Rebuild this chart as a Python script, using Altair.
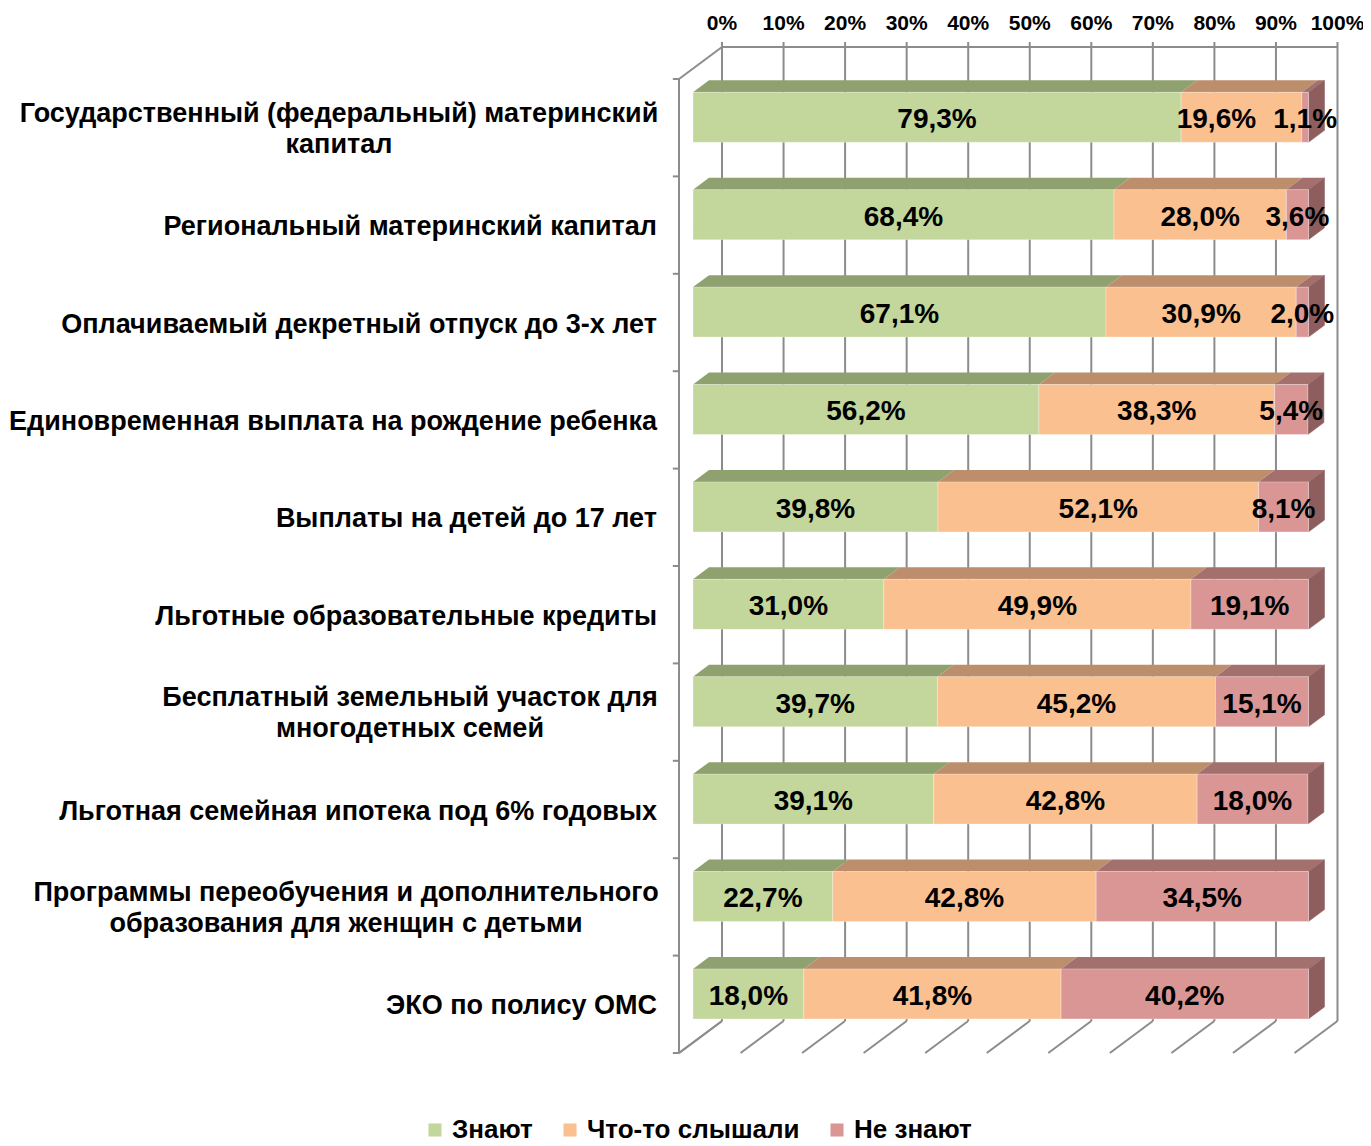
import altair as alt
import pandas as pd

# ---------------- data ----------------
categories = [
    "Государственный (федеральный) материнский\nкапитал",
    "Региональный материнский капитал",
    "Оплачиваемый декретный отпуск до 3-х лет",
    "Единовременная выплата на рождение ребенка",
    "Выплаты на детей до 17 лет",
    "Льготные образовательные кредиты",
    "Бесплатный земельный участок для\nмногодетных семей",
    "Льготная семейная ипотека под 6% годовых",
    "Программы переобучения и дополнительного\nобразования для женщин с детьми",
    "ЭКО по полису ОМС",
]
series = ["Знают", "Что-то слышали", "Не знают"]
know = [79.3, 68.4, 67.1, 56.2, 39.8, 31.0, 39.7, 39.1, 22.7, 18.0]
heard = [19.6, 28.0, 30.9, 38.3, 52.1, 49.9, 45.2, 42.8, 42.8, 41.8]
dont = [1.1, 3.6, 2.0, 5.4, 8.1, 19.1, 15.1, 18.0, 34.5, 40.2]
tick_values = [0, 10, 20, 30, 40, 50, 60, 70, 80, 90, 100]
tick_labels = ["0%", "10%", "20%", "30%", "40%", "50%", "60%", "70%", "80%", "90%", "100%"]

# ---------------- style / layout ----------------
front_colors = ["#C3D69B", "#FAC090", "#D99694"]
top_colors = ["#8FA16E", "#BD8E6C", "#A4706E"]
side_color = "#8D5E5D"
grid_color = "#8C8C8C"
FONT = "Liberation Sans"

W, H = 1355, 1138
PX_PER_PCT = 6.155
X0 = 671
PX_PER_ROW = 97.4
Y0 = 71
DX = 43 / PX_PER_PCT
DY = 32 / PX_PER_ROW
d1, d2 = 14 / 43, 30 / 43
OFF_X, OFF_Y = d1 * DX, d1 * DY
DXB, DYB = (d2 - d1) * DX, (d2 - d1) * DY
HALF = 25 / PX_PER_ROW
n = len(categories)
label_shift_px = {(0, 1): -25}   # nudge of a crowded value label (layout only)

xs = alt.Scale(domain=[0, 100], range=[X0, X0 + 100 * PX_PER_PCT], nice=False, zero=False)
ys = alt.Scale(domain=[0, 10], range=[Y0, Y0 + 10 * PX_PER_ROW], nice=False, zero=False)

# ---------------- derived tables ----------------
seg_rows, top_rows, side_rows = [], [], []
for k in range(n):
    s = 0.0
    vals = [know[k], heard[k], dont[k]]
    for j, name in enumerate(series):
        v = vals[j]
        e = s + v
        yc = k + 0.5 - OFF_Y
        yt, yb = yc - HALF, yc + HALF
        sid = f"s{k}_{j}"
        shift = label_shift_px.get((k, j), 0) / PX_PER_PCT
        seg_rows.append(dict(k=k, series=name, x=s + OFF_X, x2=e + OFF_X, xm=(s + e) / 2 + OFF_X + shift,
                             y=yt, y2=yb, yc=yc, label=f"{v:.1f}".replace(".", ",") + "%"))
        top_rows.append(dict(fid=sid, series=name, y=yt, x=s + OFF_X, x2=e + OFF_X))
        top_rows.append(dict(fid=sid, series=name, y=yt - DYB, x=s + OFF_X + DXB, x2=e + OFF_X + DXB))
        if j == len(series) - 1:
            pts = [(e + OFF_X, yt), (e + OFF_X + DXB, yt - DYB), (e + OFF_X + DXB, yb - DYB), (e + OFF_X, yb)]
            for p, (px, py) in enumerate(pts):
                side_rows.append(dict(fid=sid, p=p, x=px, y=py))
        s = e

seg = pd.DataFrame(seg_rows)
tops = pd.DataFrame(top_rows)
sides = pd.DataFrame(side_rows)

grid = pd.DataFrame(dict(x=[t + DX for t in tick_values], y=[-DY] * 11, y2=[10 - DY] * 11,
                         yt=[-DY - 5 / PX_PER_ROW] * 11, lab=tick_labels,
                         ylab=[-DY - 23 / PX_PER_ROW] * 11))
floor = pd.DataFrame(dict(x=tick_values, y=[10] * 11, x2=[t + DX for t in tick_values], y2=[10 - DY] * 11))
wall = pd.DataFrame(
    [dict(x=0, y=0, x2=0, y2=10), dict(x=0, y=0, x2=DX, y2=-DY), dict(x=0, y=10, x2=DX, y2=10 - DY),
     dict(x=DX, y=-DY, x2=100 + DX, y2=-DY)]
    + [dict(x=-1, y=k, x2=0, y2=k) for k in range(n + 1)]
)

two_line_center = {0: 331, 6: 402, 8: 338}
cat_df = pd.DataFrame(dict(k=range(n), cat=categories, yc=[k + 0.5 for k in range(n)]))
cat_df["two"] = cat_df["k"].isin(list(two_line_center))
cat_df["lx"] = cat_df["k"].map(two_line_center).fillna(649)

# ---------------- layers ----------------
def X(f):
    return alt.X(f, scale=xs, axis=None)

def Y(f):
    return alt.Y(f, scale=ys, axis=None)

grid_rules = alt.Chart(grid).mark_rule(color=grid_color, strokeWidth=2).encode(x=X("x:Q"), y=Y("yt:Q"), y2="y2:Q")
floor_rules = alt.Chart(floor).mark_rule(color=grid_color, strokeWidth=2).encode(
    x=X("x:Q"), y=Y("y:Q"), x2="x2:Q", y2="y2:Q")
wall_rules = alt.Chart(wall).mark_rule(color=grid_color, strokeWidth=2).encode(
    x=X("x:Q"), y=Y("y:Q"), x2="x2:Q", y2="y2:Q")

top_faces = alt.Chart(tops).mark_area(orient="horizontal", opacity=1).encode(
    y=Y("y:Q"), x=X("x:Q"), x2="x2:Q",
    color=alt.Color("series:N", scale=alt.Scale(domain=series, range=top_colors), legend=None),
    detail="fid:N")

side_faces = alt.Chart(sides).mark_line(fill=side_color, stroke=side_color, strokeWidth=0.5).encode(
    x=X("x:Q"), y=Y("y:Q"), detail="fid:N", order="p:Q")

front_faces = alt.Chart(seg).mark_rect(stroke="white", strokeWidth=0.6, strokeOpacity=0.5).encode(
    x=X("x:Q"), x2="x2:Q", y=Y("y:Q"), y2="y2:Q",
    color=alt.Color("series:N", scale=alt.Scale(domain=series, range=front_colors),
                    legend=alt.Legend(title=None, orient="none", legendX=414, legendY=1109,
                                      direction="horizontal", symbolType="square", symbolSize=170,
                                      symbolStrokeWidth=0, labelFont=FONT, labelFontSize=26,
                                      labelFontWeight="bold", labelColor="#000000", labelOffset=4,
                                      columnPadding=24, labelLimit=400)))

value_labels = alt.Chart(seg).mark_text(font=FONT, fontSize=28, fontWeight="bold", color="#000000",
                                        baseline="middle", align="center", dy=3).encode(
    x=X("xm:Q"), y=Y("yc:Q"), text="label:N")

axis_labels = alt.Chart(grid).mark_text(font=FONT, fontSize=21, fontWeight="bold", color="#000000",
                                        baseline="middle", align="center").encode(
    x=X("x:Q"), y=Y("ylab:Q"), text="lab:N")

cat_right = alt.Chart(cat_df).transform_filter("!datum.two").mark_text(
    font=FONT, fontSize=27, fontWeight="bold", color="#000000", align="right", baseline="middle", dy=2).encode(
    x=alt.X("lx:Q", scale=None), y=Y("yc:Q"), text="cat:N")
cat_center = alt.Chart(cat_df).transform_filter("datum.two").mark_text(
    font=FONT, fontSize=27, fontWeight="bold", color="#000000", align="center", baseline="middle",
    lineBreak="\n", lineHeight=31, dy=-14).encode(
    x=alt.X("lx:Q", scale=None), y=Y("yc:Q"), text="cat:N")

chart = alt.layer(
    grid_rules, floor_rules, wall_rules, top_faces, side_faces, front_faces,
    value_labels, axis_labels, cat_right, cat_center
).resolve_scale(color="independent").properties(
    width=W, height=H, padding=0, autosize=alt.AutoSizeParams(type="none"), background="white"
).configure_view(stroke=None)

chart.save("out.html", embed_options={"renderer": "svg", "actions": False})
